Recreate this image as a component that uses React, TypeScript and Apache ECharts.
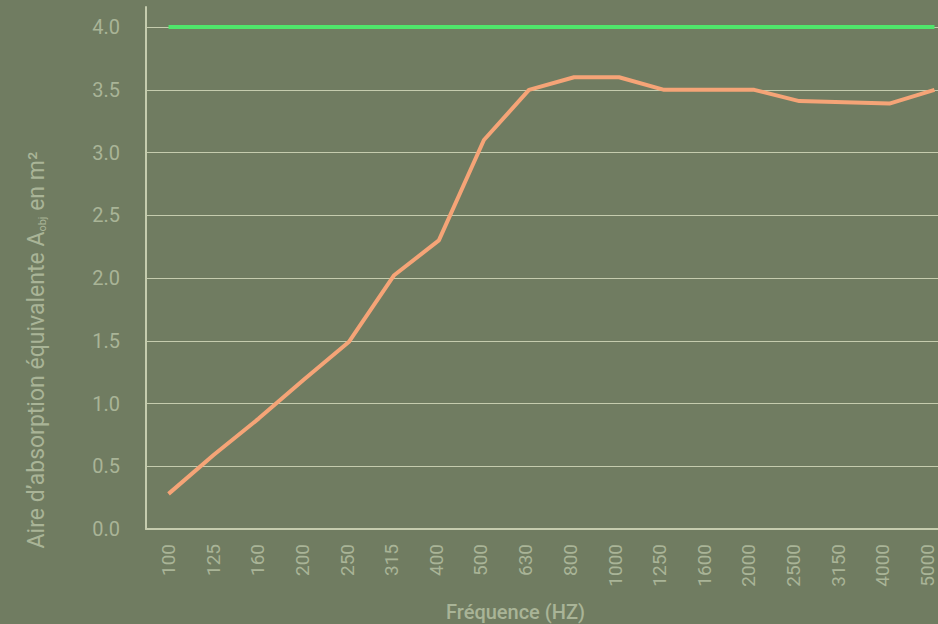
import React, { useEffect, useRef } from "react";
import * as echarts from "echarts";

const categories = ["100", "125", "160", "200", "250", "315", "400", "500", "630", "800", "1000", "1250", "1600", "2000", "2500", "3150", "4000", "5000"];
const measured = [0.28, 0.59, 0.88, 1.19, 1.49, 2.02, 2.3, 3.1, 3.5, 3.6, 3.6, 3.5, 3.5, 3.5, 3.41, 3.4, 3.39, 3.5];
const target = [4, 4, 4, 4, 4, 4, 4, 4, 4, 4, 4, 4, 4, 4, 4, 4, 4, 4];
const yTicks = [0, 0.5, 1, 1.5, 2, 2.5, 3, 3.5, 4];

const BG = "#707c61";
const LABEL = "#a9b497";
const LINE = "#c5ccae";

export default function App() {
  const ref = useRef<HTMLDivElement>(null);
  useEffect(() => {
    if (!ref.current) return;
    const chart = echarts.init(ref.current, undefined, { renderer: "svg" });
    const splitColors = yTicks.map(() => LINE).concat(["rgba(0,0,0,0)"]);
    const labelRich: Record<string, any> = {};
    categories.forEach((_, i) => {
      labelRich["l" + i] = { color: LABEL, fontSize: 19, padding: [0, 0, Math.round((14 * i) / (categories.length - 1)), 0] };
    });
    chart.setOption({
      animation: false,
      backgroundColor: BG,
      textStyle: { fontFamily: "Roboto" },
      grid: { left: 146, right: 0, top: 7, bottom: 95, outerBoundsMode: "none", containLabel: false },
      xAxis: {
        type: "category",
        data: categories,
        boundaryGap: true,
        name: "Fréquence (HZ)",
        nameLocation: "middle",
        nameGap: 73,
        nameTextStyle: { color: LABEL, fontSize: 20, fontWeight: 500, padding: [0, 72, 0, 0] },
        axisLine: { lineStyle: { color: LINE, width: 2 } },
        axisTick: { show: false },
        axisLabel: {
          color: LABEL,
          fontSize: 19,
          rotate: 90,
          margin: 15,
          interval: 0,
          formatter: (v: string, i: number) => `{l${i}|${v}}`,
          rich: labelRich,
        },
      },
      yAxis: {
        type: "value",
        min: 0,
        max: 4.16,
        interval: 0.5,
        name: "Aire d’absorption équivalente A{sub|obj} en m²",
        nameLocation: "middle",
        nameGap: 98,
        nameRotate: 90,
        nameTextStyle: {
          color: LABEL,
          fontSize: 23,
          padding: [0, 164, 0, 0],
          rich: { sub: { fontSize: 11, color: LABEL, verticalAlign: "bottom", padding: [11, 0, 0, 0] } },
        },
        axisLine: { show: true, lineStyle: { color: LINE, width: 2 } },
        axisTick: { show: false },
        splitLine: { lineStyle: { color: splitColors, width: 1 } },
        axisLabel: {
          color: LABEL,
          fontSize: 20,
          margin: 26,
          showMaxLabel: false,
          formatter: (v: number) => (yTicks.indexOf(v) >= 0 ? v.toFixed(1) : ""),
        },
      },
      series: [
        {
          type: "line",
          data: target,
          symbol: "none",
          lineStyle: { color: "#4fe66b", width: 4 },
        },
        {
          type: "line",
          data: measured,
          symbol: "none",
          lineStyle: { color: "#f5a477", width: 4 },
        },
      ],
    });
    return () => chart.dispose();
  }, []);
  return (
    <div style={{ width: 938, height: 624, position: "absolute", left: 0, top: 0, overflow: "hidden" }}>
      <div ref={ref} style={{ width: 957, height: 624 }} />
    </div>
  );
}
